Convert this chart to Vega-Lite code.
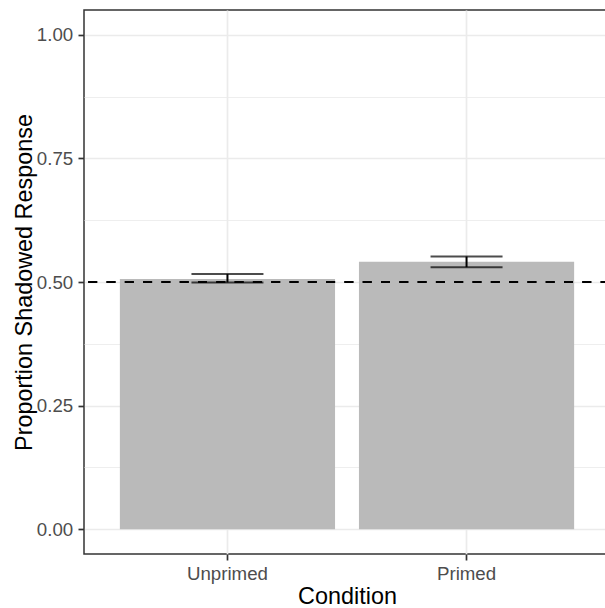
{
  "$schema": "https://vega.github.io/schema/vega-lite/v6.json",
  "width": 526,
  "height": 544,
  "autosize": "none",
  "padding": {"left": 84, "top": 10, "right": 0, "bottom": 54},
  "background": "white",
  "config": {
    "font": "Liberation Sans",
    "view": {"stroke": "#333333", "strokeWidth": 1.5},
    "axis": {
      "labelFont": "Liberation Sans",
      "titleFont": "Liberation Sans",
      "labelFontSize": 18.7,
      "labelColor": "#4D4D4D",
      "titleFontSize": 23.4,
      "titleFontWeight": "normal",
      "titleColor": "#000000",
      "tickColor": "#333333",
      "tickSize": 6,
      "tickWidth": 1.7,
      "gridColor": "#EBEBEB",
      "domain": false
    }
  },
  "data": {
    "values": [
      {"Condition": "Unprimed", "prop": 0.506, "lo": 0.499, "hi": 0.516},
      {"Condition": "Primed", "prop": 0.541, "lo": 0.530, "hi": 0.5515}
    ]
  },
  "layer": [
    {
      "mark": {"type": "bar", "color": "#BABABA"},
      "encoding": {
        "x": {
          "field": "Condition",
          "type": "nominal",
          "sort": ["Unprimed", "Primed"],
          "scale": {"type": "band", "paddingInner": 0.1, "paddingOuter": 0.15},
          "axis": {
            "title": "Condition",
            "labelAngle": 0,
            "grid": true,
            "gridWidth": 1.7,
            "bandPosition": 0.5,
            "labelPadding": 4.5,
            "titlePadding": 2
          }
        },
        "y": {
          "field": "prop",
          "type": "quantitative",
          "scale": {"domain": [-0.05, 1.05], "nice": false, "zero": false},
          "axis": {
            "title": "Proportion Shadowed Response",
            "values": [0, 0.125, 0.25, 0.375, 0.5, 0.625, 0.75, 0.875, 1],
            "labelExpr": "(datum.value * 4) % 1 != 0 ? '' : format(datum.value, '.2f')",
            "gridWidth": {"condition": {"test": "(datum.value * 4) % 1 != 0", "value": 0.85}, "value": 1.7},
            "tickOpacity": {"condition": {"test": "(datum.value * 4) % 1 != 0", "value": 0}, "value": 1},
            "labelPadding": 5.3,
            "titlePadding": 0
          }
        }
      }
    },
    {
      "mark": {"type": "rule", "color": "#000000", "strokeWidth": 2},
      "encoding": {
        "x": {"field": "Condition", "type": "nominal", "sort": ["Unprimed", "Primed"]},
        "y": {"field": "lo", "type": "quantitative"},
        "y2": {"field": "hi"}
      }
    },
    {
      "mark": {"type": "tick", "color": "#000000", "size": 72, "thickness": 2},
      "encoding": {
        "x": {"field": "Condition", "type": "nominal", "sort": ["Unprimed", "Primed"]},
        "y": {"field": "lo", "type": "quantitative"}
      }
    },
    {
      "mark": {"type": "tick", "color": "#000000", "size": 72, "thickness": 2},
      "encoding": {
        "x": {"field": "Condition", "type": "nominal", "sort": ["Unprimed", "Primed"]},
        "y": {"field": "hi", "type": "quantitative"}
      }
    },
    {
      "mark": {"type": "rule", "color": "#000000", "strokeWidth": 2, "strokeDash": [9, 9.3], "strokeDashOffset": 17.9},
      "encoding": {"y": {"datum": 0.5, "type": "quantitative"}}
    }
  ]
}
